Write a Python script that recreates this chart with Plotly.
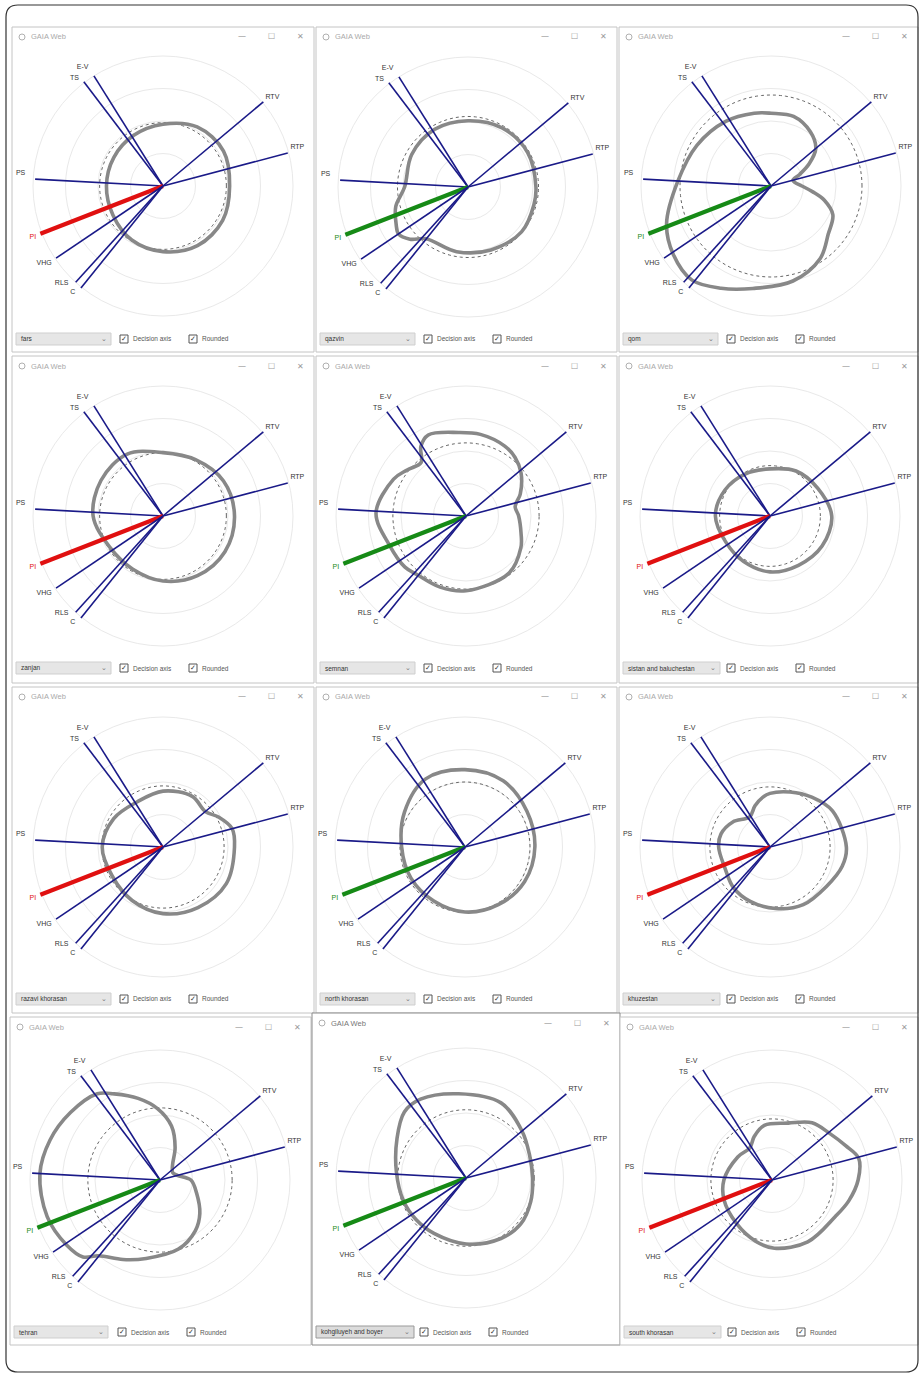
import plotly.graph_objects as go

W, H = 921, 1375

# ---------------- data ----------------
provinces = ["fars", "qazvin", "qom", "zanjan", "semnan", "sistan and baluchestan",
             "razavi khorasan", "north khorasan", "khuzestan", "tehran",
             "kohgiluyeh and boyer", "south khorasan"]
pi_colors = ["#e01010", "#168a16", "#168a16", "#e01010", "#168a16", "#e01010",
             "#e01010", "#168a16", "#e01010", "#168a16", "#168a16", "#e01010"]

crit_names = ["TS", "E-V", "RTV", "RTP", "PS", "PI", "VHG", "RLS", "C"]
crit_angle = [127.2, 122.1, 40.0, 14.8, 176.9, 201.3, 214.0, 227.8, 231.2]
crit_len = [4.03, 4.0, 4.03, 3.97, 3.94, 4.05, 3.97, 4.0, 4.03]
label_r = [4.28, 4.42, 4.33, 4.3, 4.4, 4.3, 4.36, 4.32, 4.28]
label_angle = [129.5, 124.0, 39.0, 16.0, 175.0, 201.4, 213.0, 223.8, 229.5]

ring_vals = [1, 2, 3, 4]
dotted_r = [1.95, 2.17, 2.8, 1.95, 2.25, 1.55, 1.88, 2.0, 1.85, 2.22, 2.1, 1.88]

fars_theta = [0, 30, 60, 90, 120, 150, 180, 210, 240, 270, 300, 330]
fars_r = [2.05, 2.15, 2.1, 1.9, 1.8, 1.75, 1.74, 1.78, 1.92, 2.02, 2.12, 2.12]

qazvin_theta = [0, 30, 60, 90, 120, 150, 180, 195, 208, 214, 222, 231, 260, 290, 320, 345]
qazvin_r = [2.09, 2.12, 2.1, 2.04, 2.05, 2.0, 1.95, 2.3, 2.5, 2.58, 2.4, 2.05, 2.02, 2.06, 2.15, 2.1]

qom_theta = [0, 8, 15, 22, 30, 40, 54, 72, 90, 103, 125, 151, 177, 200, 215, 230, 244, 260,
             283, 304, 320, 335, 345, 352]
qom_r = [0.95, 0.75, 0.7, 0.95, 1.35, 1.8, 2.06, 2.25, 2.24, 2.3, 2.43, 2.6, 2.87, 3.42, 3.67,
         3.78, 3.5, 3.2, 3.0, 2.7, 2.3, 2.1, 1.7, 1.3]

zanjan_theta = [0, 30, 60, 90, 120, 150, 180, 210, 240, 270, 300, 330]
zanjan_r = [2.2, 2.15, 2.0, 1.95, 2.2, 2.2, 2.15, 1.9, 1.88, 2.0, 2.12, 2.2]

semnan_theta = [0, 11, 22, 38, 50, 61, 80, 95, 115, 123, 130, 142, 153, 178, 201, 220, 230,
                250, 270, 307, 330, 343]
semnan_r = [1.62, 1.54, 1.8, 2.15, 2.35, 2.46, 2.55, 2.58, 2.75, 2.55, 2.15, 2.3, 2.5, 2.77,
            2.52, 2.45, 2.35, 2.33, 2.3, 2.2, 1.95, 1.77]

sistan_theta = [0, 30, 60, 90, 120, 150, 180, 210, 240, 270, 300, 330]
sistan_r = [1.9, 1.7, 1.6, 1.45, 1.5, 1.6, 1.68, 1.58, 1.62, 1.72, 1.75, 1.85]

razavi_theta = [0, 15, 28, 40, 60, 90, 120, 150, 180, 210, 240, 270, 300, 330]
razavi_r = [2.2, 2.2, 1.95, 1.7, 1.8, 1.72, 1.6, 1.75, 1.87, 1.8, 1.9, 2.05, 2.15, 2.25]

north_theta = [0, 30, 60, 90, 120, 150, 180, 210, 240, 270, 300, 330]
north_r = [2.15, 2.2, 2.35, 2.38, 2.42, 2.15, 1.95, 1.92, 1.92, 2.0, 2.05, 2.12]

khuz_theta = [0, 30, 50, 70, 90, 98, 110, 124, 146, 165, 180, 205, 228, 250, 275, 300, 325, 345]
khuz_r = [2.35, 2.22, 2.0, 1.8, 1.65, 1.55, 1.35, 1.12, 1.38, 1.56, 1.58, 1.53, 1.68, 1.78,
          1.9, 2.05, 2.12, 2.3]

tehran_theta = [0, 15, 30, 50, 65, 78, 92, 105, 118, 126, 143, 160, 177, 198, 215, 225, 231,
                245, 260, 285, 305, 320, 340]
tehran_r = [0.95, 0.55, 0.45, 0.6, 1.1, 1.7, 2.2, 2.6, 3.0, 3.28, 3.45, 3.6, 3.7, 3.65, 3.5,
            3.35, 3.0, 2.7, 2.45, 2.2, 1.9, 1.6, 1.2]

kohg_theta = [0, 20, 40, 65, 95, 120, 133, 150, 175, 200, 220, 240, 270, 300, 320, 340]
kohg_r = [2.05, 2.08, 2.25, 2.55, 2.6, 2.8, 2.78, 2.45, 2.15, 2.05, 2.0, 1.97, 2.03, 2.15, 2.2, 2.12]

sk_theta = [0, 14, 25, 39, 55, 74, 98, 112, 125, 146, 180, 203, 231, 255, 272, 300, 330, 345]
sk_r = [2.65, 2.75, 2.5, 2.28, 2.15, 1.82, 1.7, 1.45, 1.2, 1.27, 1.48, 1.6, 1.73, 1.95, 2.1,
        2.2, 2.25, 2.45]

shape_thetas = [fars_theta, qazvin_theta, qom_theta, zanjan_theta, semnan_theta, sistan_theta,
                razavi_theta, north_theta, khuz_theta, tehran_theta, kohg_theta, sk_theta]
shape_rs = [fars_r, qazvin_r, qom_r, zanjan_r, semnan_r, sistan_r,
            razavi_r, north_r, khuz_r, tehran_r, kohg_r, sk_r]

# ---------------- layout helpers ----------------
centers = [(163, 186), (468, 187), (771, 186),
           (163, 516), (466, 516), (770, 516),
           (163, 847), (465, 847), (770, 847),
           (160, 1180), (466, 1178), (772, 1180)]
windows = [(12, 27, 314, 352), (316, 27, 617, 352), (619, 27, 918, 352),
           (12, 356, 314, 683), (316, 356, 617, 683), (619, 356, 918, 683),
           (12, 687, 314, 1013), (316, 687, 617, 1013), (619, 687, 918, 1013),
           (10, 1017, 311, 1345), (312, 1013, 620, 1345), (620, 1017, 918, 1345)]
ctrl_y = [339, 339, 339, 668, 668, 668, 999, 999, 999, 1332, 1332, 1332]
dd_width = [95, 95, 95, 95, 95, 97, 95, 95, 97, 94, 98, 97]

RANGE_MAX = 4.5
R_PX = 130 * RANGE_MAX / 4.0
NAVY = "#1a1a88"


def px(x):
    return x / W


def py(y):
    return 1 - y / H


fig = go.Figure()
shapes = []
annos = []
circ_theta = list(range(0, 361, 3))

for i, prov in enumerate(provinces):
    pid = "polar" if i == 0 else f"polar{i + 1}"
    cx, cy = centers[i]

    # dotted circle
    fig.add_trace(go.Scatterpolar(
        r=[dotted_r[i]] * len(circ_theta), theta=circ_theta, mode="lines",
        line=dict(color="#666666", width=1, dash="dot"),
        subplot=pid, showlegend=False, hoverinfo="skip"))
    # decision shape
    th = shape_thetas[i] + [shape_thetas[i][0]]
    rr = shape_rs[i] + [shape_rs[i][0]]
    fig.add_trace(go.Scatterpolar(
        r=rr, theta=th, mode="lines",
        line=dict(color="#888888", width=3.6, shape="spline", smoothing=1.0),
        subplot=pid, showlegend=False, hoverinfo="skip"))
    # criteria axes
    for j, name in enumerate(crit_names):
        if name == "PI":
            col, wd = pi_colors[i], 4.2
        else:
            col, wd = NAVY, 1.6
        fig.add_trace(go.Scatterpolar(
            r=[0, crit_len[j]], theta=[crit_angle[j], crit_angle[j]], mode="lines",
            line=dict(color=col, width=wd),
            subplot=pid, showlegend=False, hoverinfo="skip"))
    # criteria labels
    lab_cols = [pi_colors[i] if n == "PI" else "#333333" for n in crit_names]
    fig.add_trace(go.Scatterpolar(
        r=label_r, theta=label_angle, mode="text", text=crit_names,
        textfont=dict(size=7, color=lab_cols, family="Liberation Sans"),
        cliponaxis=False, subplot=pid, showlegend=False, hoverinfo="skip"))

    fig.layout[pid] = dict(
        domain=dict(x=[px(cx - R_PX), px(cx + R_PX)], y=[py(cy + R_PX), py(cy - R_PX)]),
        bgcolor="rgba(0,0,0,0)",
        radialaxis=dict(range=[0, RANGE_MAX], tickvals=ring_vals, showticklabels=False,
                        ticks="", showline=False, gridcolor="#e9e9e9", gridwidth=1),
        angularaxis=dict(showgrid=False, showline=False, showticklabels=False, ticks="",
                         rotation=0, direction="counterclockwise"))

    # ---- window chrome ----
    x0, y0, x1, y1 = windows[i]
    dark = (i == 10)
    shapes.append(dict(type="rect", xref="paper", yref="paper", layer="below",
                       x0=px(x0), x1=px(x1), y0=py(y1), y1=py(y0),
                       line=dict(color="#8a8a8a" if dark else "#c4c4c4", width=1),
                       fillcolor="white"))
    # title bar icon + title
    shapes.append(dict(type="circle", xref="paper", yref="paper", layer="above",
                       x0=px(x0 + 7), x1=px(x0 + 13), y0=py(y0 + 13), y1=py(y0 + 7),
                       line=dict(color="#b0b0b0", width=1)))
    annos.append(dict(x=px(x0 + 17), y=py(y0 + 10), xref="paper", yref="paper",
                      text="GAIA Web", showarrow=False, xanchor="left", yanchor="middle",
                      font=dict(size=7.5, color="#777777" if dark else "#aaaaaa",
                                family="Liberation Sans")))
    for k, sym in enumerate(["—", "☐", "✕"]):
        annos.append(dict(x=px(x1 - 72 + 29 * k), y=py(y0 + 10), xref="paper", yref="paper",
                          text=sym, showarrow=False, xanchor="center", yanchor="middle",
                          font=dict(size=8, color="#9a9a9a", family="DejaVu Sans")))
    # bottom controls
    by = ctrl_y[i]
    dx0 = x0 + 4
    shapes.append(dict(type="rect", xref="paper", yref="paper", layer="above",
                       x0=px(dx0), x1=px(dx0 + dd_width[i]), y0=py(by + 6), y1=py(by - 6),
                       line=dict(color="#9a9a9a" if dark else "#cfcfcf", width=1),
                       fillcolor="#dcdcdc" if dark else "#e6e6e6"))
    annos.append(dict(x=px(dx0 + 3), y=py(by), xref="paper", yref="paper", text=prov,
                      showarrow=False, xanchor="left", yanchor="middle",
                      font=dict(size=6.5, color="#333333", family="Liberation Sans")))
    annos.append(dict(x=px(dx0 + dd_width[i] - 7), y=py(by), xref="paper", yref="paper",
                      text="⌄", showarrow=False, xanchor="center", yanchor="middle",
                      font=dict(size=7, color="#777777", family="DejaVu Sans")))
    for cbx, lab in [(x0 + 112, "Decision axis"), (x0 + 181, "Rounded")]:
        shapes.append(dict(type="rect", xref="paper", yref="paper", layer="above",
                           x0=px(cbx - 4), x1=px(cbx + 4), y0=py(by + 4), y1=py(by - 4),
                           line=dict(color="#555555", width=1), fillcolor="white"))
        annos.append(dict(x=px(cbx), y=py(by), xref="paper", yref="paper", text="✓",
                          showarrow=False, xanchor="center", yanchor="middle",
                          font=dict(size=7, color="#333333", family="DejaVu Sans")))
        annos.append(dict(x=px(cbx + 7), y=py(by), xref="paper", yref="paper", text=lab,
                          showarrow=False, xanchor="left", yanchor="middle",
                          font=dict(size=6.5, color="#555555", family="Liberation Sans")))

# outer rounded frame
fx0, fy0, fx1, fy1, rc = 6, 5, 918, 1372, 12
path = (f"M {px(fx0 + rc)} {py(fy0)} L {px(fx1 - rc)} {py(fy0)} "
        f"Q {px(fx1)} {py(fy0)} {px(fx1)} {py(fy0 + rc)} "
        f"L {px(fx1)} {py(fy1 - rc)} Q {px(fx1)} {py(fy1)} {px(fx1 - rc)} {py(fy1)} "
        f"L {px(fx0 + rc)} {py(fy1)} Q {px(fx0)} {py(fy1)} {px(fx0)} {py(fy1 - rc)} "
        f"L {px(fx0)} {py(fy0 + rc)} Q {px(fx0)} {py(fy0)} {px(fx0 + rc)} {py(fy0)} Z")
shapes.append(dict(type="path", xref="paper", yref="paper", path=path, layer="below",
                   line=dict(color="#333333", width=1.2)))

fig.update_layout(width=W, height=H, margin=dict(l=0, r=0, t=0, b=0),
                  paper_bgcolor="white", plot_bgcolor="white", showlegend=False,
                  shapes=shapes, annotations=annos)

fig.write_html("out.html", config={"displayModeBar": False},
               post_script="document.body.style.margin='0';document.body.style.padding='0';")
